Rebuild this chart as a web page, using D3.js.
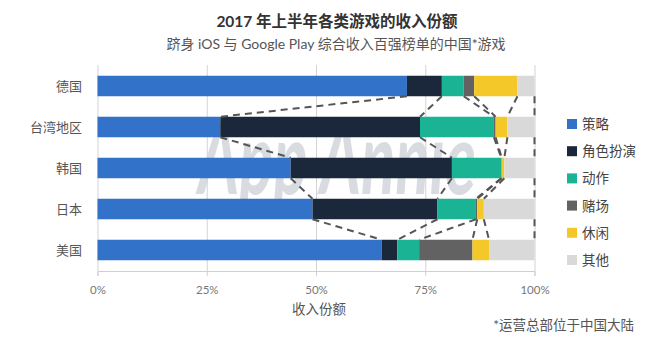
<!DOCTYPE html>
<html><head><meta charset="utf-8">
<script src="https://cdn.jsdelivr.net/npm/d3@7"></script>
<style>
html,body{margin:0;padding:0;background:#fff;}
svg{display:block;font-family:"Lato","Noto Sans CJK SC",sans-serif;}
</style></head>
<body><svg id="c" width="661" height="341"></svg>
<script>
const countries = ["德国","台湾地区","韩国","日本","美国"];
const genres = ["策略","角色扮演","动作","赌场","休闲","其他"];
const strategy = [70.8, 28.1, 44.2, 49.2, 65.0];
const rpg      = [8.0, 45.7, 36.9, 28.6, 3.6];
const action   = [5.0, 16.9, 11.3, 8.8, 5.0];
const casino   = [2.4, 0.4, 0.1, 0.3, 12.2];
const casual   = [9.9, 2.7, 0.6, 1.5, 3.8];
const other    = [3.9, 6.2, 6.9, 11.6, 10.4];
const tickValues = [0, 25, 50, 75, 100];
const tickLabels = ["0%","25%","50%","75%","100%"];
const colors = ["#3272c8","#1b283b","#1ab394","#626262","#f5c82a","#d9d9d9"];

const series = [strategy, rpg, action, casino, casual, other];
const rows = countries.map((c,i)=>{const o={country:c}; genres.forEach((g,j)=>o[g]=series[j][i]); return o;});
const stacked = d3.stack().keys(genres)(rows);

const svg = d3.select("#c");
const x = d3.scaleLinear().domain([0,100]).range([97.5,534.5]);
const y = d3.scaleBand().domain(countries).range([65.5,270.5]).paddingInner(0.5).paddingOuter(0.25);

// gridlines
const grid = svg.append("g").attr("transform","translate(0,271)")
  .call(d3.axisBottom(x).tickValues(tickValues).tickSize(-206).tickFormat(""));
grid.select(".domain").remove();
grid.selectAll("line").attr("stroke","#d3d3d3").attr("stroke-width",1);

// watermark
const wm = svg.append("text").attr("transform","translate(198,194) scale(0.6,1)")
  .attr("font-size",100).attr("font-style","italic").attr("font-weight","bold").attr("font-family","Lato, sans-serif")
  .attr("fill","#cfd3d8").attr("opacity",0.8).text("App Annie");
const w = wm.node().getComputedTextLength();
if (w > 0) wm.attr("transform",`translate(198,194) scale(${278/w},1)`);

// axis
const ax = svg.append("g").attr("transform","translate(0,271)")
  .call(d3.axisBottom(x).tickValues(tickValues).tickSize(5).tickPadding(10).tickFormat((d,i)=>tickLabels[i]));
ax.select(".domain").attr("stroke","#cfcfcf");
ax.selectAll("line").attr("stroke","#cfcfcf");
ax.selectAll("text").attr("fill","#777").attr("font-size",11.5).attr("font-family","Lato, sans-serif");

// bars
svg.append("g").selectAll("g").data(stacked).join("g")
  .attr("fill",(d,i)=>colors[i])
  .selectAll("rect").data(d=>d).join("rect")
  .attr("x",d=>x(d[0])).attr("width",d=>Math.max(0,x(d[1])-x(d[0])))
  .attr("y",d=>y(d.data.country)).attr("height",y.bandwidth());

// connector dashed lines
const conn = [];
stacked.forEach(s=>{
  for(let i=0;i<countries.length-1;i++){
    conn.push({x1:x(s[i][1]), y1:y(countries[i])+y.bandwidth(), x2:x(s[i+1][1]), y2:y(countries[i+1])});
  }
});
svg.append("g").selectAll("line").data(conn).join("line")
  .attr("x1",d=>d.x1).attr("y1",d=>d.y1).attr("x2",d=>d.x2).attr("y2",d=>d.y2)
  .attr("stroke","#555").attr("stroke-width",2).attr("stroke-dasharray","7,5");

// y labels
svg.append("g").selectAll("text").data(countries).join("text")
  .attr("x",82).attr("y",d=>y(d)+y.bandwidth()/2).attr("dy","0.35em")
  .attr("text-anchor","end").attr("font-size",13).attr("fill","#555").text(d=>d);

// legend
const lg = svg.append("g").selectAll("g").data(genres).join("g")
  .attr("transform",(d,i)=>`translate(567,${124+i*27.2})`);
lg.append("rect").attr("x",0).attr("y",-5).attr("width",10).attr("height",10).attr("fill",(d,i)=>colors[i]);
lg.append("text").attr("x",15).attr("y",5).attr("font-size",13.5).attr("fill","#444").text(d=>d);

// titles
svg.append("text").attr("x",337).attr("y",27).attr("text-anchor","middle")
  .attr("font-size",15.5).attr("font-weight","bold").attr("fill","#333").text("2017 年上半年各类游戏的收入份额");
svg.append("text").attr("x",336).attr("y",49).attr("text-anchor","middle")
  .attr("font-size",14).attr("fill","#555").text("跻身 iOS 与 Google Play 综合收入百强榜单的中国*游戏");
svg.append("text").attr("x",319).attr("y",314).attr("text-anchor","middle")
  .attr("font-size",13.5).attr("fill","#555").text("收入份额");
svg.append("text").attr("x",634).attr("y",330).attr("text-anchor","end")
  .attr("font-size",13.5).attr("fill","#555").text("*运营总部位于中国大陆");
</script></body></html>
